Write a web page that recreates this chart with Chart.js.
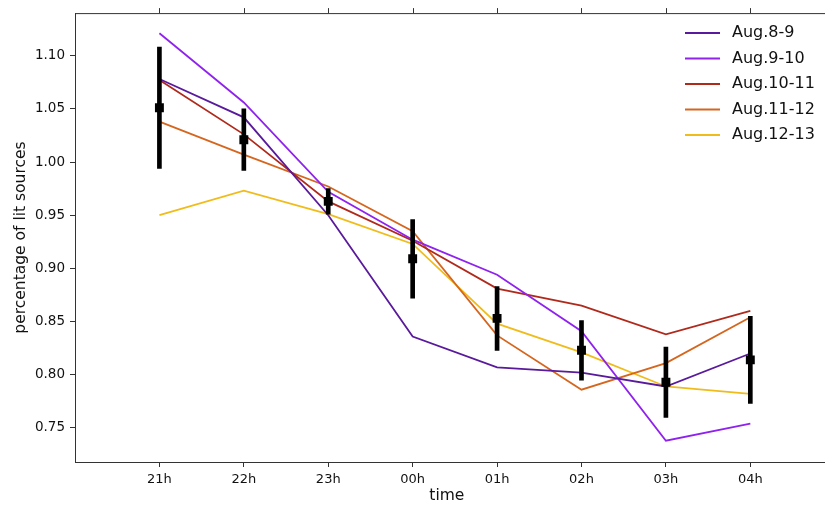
<!DOCTYPE html>
<html>
<head>
<meta charset="utf-8">
<script src="https://cdn.jsdelivr.net/npm/chart.js@4"></script>
<style>
	body { margin: 0; background: #fff; }
	#wrap { width: 825px; height: 505px; }
</style>
</head>
<body>
<div id="wrap"><canvas id="lit-chart" width="825" height="505"></canvas></div>
<script>
var hours = ['21h', '22h', '23h', '00h', '01h', '02h', '03h', '04h'];
var yTicks = [0.75, 0.80, 0.85, 0.90, 0.95, 1.00, 1.05, 1.10];

var aug8_9 = [1.078, 1.042, 0.950, 0.836, 0.807, 0.802, 0.789, 0.820];
var aug9_10 = [1.121, 1.056, 0.972, 0.927, 0.894, 0.841, 0.738, 0.754];
var aug10_11 = [1.077, 1.026, 0.963, 0.926, 0.881, 0.865, 0.838, 0.860];
var aug11_12 = [1.038, 1.007, 0.977, 0.935, 0.837, 0.786, 0.811, 0.854];
var aug12_13 = [0.950, 0.973, 0.951, 0.923, 0.848, 0.821, 0.789, 0.782];

// nightly mean and spread
var meanLit = [1.051, 1.021, 0.963, 0.909, 0.853, 0.823, 0.793, 0.814];
var errLit = [0.057, 0.029, 0.012, 0.037, 0.030, 0.028, 0.033, 0.041];

var nights = [
	{ label: 'Aug.8-9', values: aug8_9, color: '#5a1a9c' },
	{ label: 'Aug.9-10', values: aug9_10, color: '#8f22ee' },
	{ label: 'Aug.10-11', values: aug10_11, color: '#b02a1c' },
	{ label: 'Aug.11-12', values: aug11_12, color: '#d6661e' },
	{ label: 'Aug.12-13', values: aug12_13, color: '#f0bc1c' }
];

var FONT = 'DejaVu Sans';
var INK = '#111';
var AXIS = '#333';

function points(values) {
	return values.map(function (v, i) { return { x: i, y: v }; });
}

var datasets = nights.map(function (n) {
	return {
		type: 'line',
		label: n.label,
		data: points(n.values),
		borderColor: n.color,
		backgroundColor: n.color,
		borderWidth: 1.8,
		pointRadius: 0,
		tension: 0,
		order: 3
	};
});

datasets.push({
	type: 'bar',
	label: 'err',
	data: meanLit.map(function (m, i) { return { x: i, y: [m - errLit[i], m + errLit[i]] }; }),
	backgroundColor: '#000',
	borderWidth: 0,
	barThickness: 4,
	grouped: false,
	order: 1
});

datasets.push({
	type: 'line',
	label: 'mean',
	data: points(meanLit),
	showLine: false,
	pointStyle: 'rect',
	pointRadius: 6.3,
	pointBackgroundColor: '#000',
	pointBorderWidth: 0,
	order: 0
});

// top spine with its ticks, bottom spine run out to the edge, and the legend
var frame = {
	id: 'frame',
	afterDraw: function (chart) {
		var ctx = chart.ctx;
		var area = chart.chartArea;
		var xs = chart.scales.x;
		ctx.save();
		ctx.strokeStyle = AXIS;
		ctx.lineWidth = 1;
		ctx.beginPath();
		ctx.moveTo(area.left, area.top + 0.5);
		ctx.lineTo(chart.width, area.top + 0.5);
		ctx.moveTo(area.right - 1, Math.round(area.bottom) + 0.5);
		ctx.lineTo(chart.width, Math.round(area.bottom) + 0.5);
		xs.ticks.forEach(function (t) {
			var px = Math.round(xs.getPixelForValue(t.value)) + 0.5;
			ctx.moveTo(px, area.top);
			ctx.lineTo(px, area.top - 5);
		});
		ctx.stroke();

		ctx.font = '16px "' + FONT + '"';
		ctx.textBaseline = 'middle';
		nights.forEach(function (n, i) {
			var y = 33 + i * 25.5;
			ctx.strokeStyle = n.color;
			ctx.lineWidth = 1.8;
			ctx.beginPath();
			ctx.moveTo(685, y);
			ctx.lineTo(720, y);
			ctx.stroke();
			ctx.fillStyle = INK;
			ctx.fillText(n.label, 732, y);
		});
		ctx.restore();
	}
};

var litChart = new Chart(document.getElementById('lit-chart'), {
	type: 'line',
	data: { datasets: datasets },
	plugins: [frame],
	options: {
		responsive: false,
		animation: false,
		layout: { padding: { top: 10, right: 0, left: 0, bottom: 0 } },
		plugins: {
			legend: { display: false },
			tooltip: { enabled: false }
		},
		scales: {
			x: {
				type: 'linear',
				offset: false,
				min: -1,
				max: 7.81,
				afterBuildTicks: function (scale) {
					scale.ticks = hours.map(function (h, i) { return { value: i }; });
				},
				afterFit: function (scale) { scale.height = 43; },
				ticks: {
					autoSkip: false,
					maxRotation: 0,
					padding: 5,
					color: INK,
					font: { family: FONT, size: 13 },
					callback: function (v) { return hours[v]; }
				},
				grid: { offset: false, drawOnChartArea: false, drawTicks: true, tickLength: 5, color: AXIS },
				border: { display: true, color: AXIS, width: 1 },
				title: {
					display: true,
					text: 'time',
					color: INK,
					font: { family: FONT, size: 15.5 },
					padding: { top: 0, bottom: 0 }
				}
			},
			y: {
				min: 0.718,
				max: 1.14,
				afterBuildTicks: function (scale) {
					scale.ticks = yTicks.map(function (v) { return { value: v }; });
				},
				afterFit: function (scale) { scale.width = 75; },
				ticks: {
					padding: 5,
					color: INK,
					font: { family: FONT, size: 13.5 },
					callback: function (v) { return v.toFixed(2); }
				},
				grid: { drawOnChartArea: false, drawTicks: true, tickLength: 5, color: AXIS },
				border: { display: true, color: AXIS, width: 1 },
				title: {
					display: true,
					text: 'percentage of lit sources',
					color: INK,
					font: { family: FONT, size: 15.5 },
					padding: { top: 12, bottom: 0 }
				}
			}
		}
	}
});
</script>
</body>
</html>
